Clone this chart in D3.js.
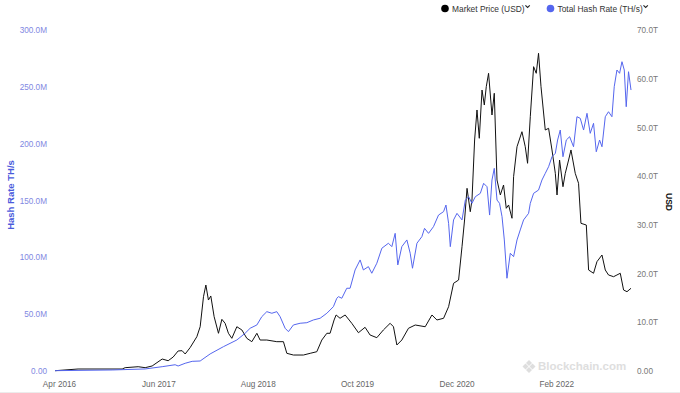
<!doctype html>
<html>
<head>
<meta charset="utf-8">
<script src="https://d3js.org/d3.v7.min.js"></script>
<style>
    body { margin: 0; background: #fff; }
    text { font-family: "Liberation Sans", Arial, sans-serif; }
</style>
</head>
<body>
<svg width="680" height="393"></svg>
<script>

// market price, thousands of USD (right axis), dates as decimal years
var priceYears = [2016.202, 2016.472, 2016.989, 2017.024, 2017.177, 2017.259, 2017.341, 2017.459, 2017.529, 2017.588,
    2017.646, 2017.693, 2017.729, 2017.787, 2017.866, 2017.905, 2017.944, 2017.972, 2018.002, 2018.030,
    2018.069, 2018.120, 2018.160, 2018.198, 2018.237, 2018.277, 2018.336, 2018.395, 2018.453, 2018.512,
    2018.571, 2018.609, 2018.688, 2018.805, 2018.883, 2018.923, 2019.000, 2019.118, 2019.197, 2019.275,
    2019.334, 2019.393, 2019.431, 2019.478, 2019.502, 2019.548, 2019.608, 2019.686, 2019.764, 2019.842,
    2019.901, 2019.980, 2020.057, 2020.136, 2020.175, 2020.215, 2020.273, 2020.351, 2020.430, 2020.547,
    2020.626, 2020.684, 2020.762, 2020.821, 2020.879, 2020.938, 2020.978, 2021.008, 2021.037, 2021.075,
    2021.095, 2021.126, 2021.154, 2021.181, 2021.213, 2021.240, 2021.263, 2021.290, 2021.330, 2021.357,
    2021.389, 2021.428, 2021.466, 2021.498, 2021.525, 2021.565, 2021.584, 2021.624, 2021.682, 2021.721,
    2021.748, 2021.780, 2021.819, 2021.850, 2021.877, 2021.906, 2021.956, 2021.995, 2022.035, 2022.074,
    2022.094, 2022.124, 2022.164, 2022.191, 2022.230, 2022.258, 2022.308, 2022.347, 2022.375, 2022.438,
    2022.465, 2022.523, 2022.563, 2022.622, 2022.661, 2022.699, 2022.758, 2022.798, 2022.837, 2022.876,
    2022.916, 2022.963];
var priceValues = [0.06, 0.41, 0.41, 0.68, 0.88, 0.68, 1.03, 2.46, 2.11, 2.87,
    4.11, 4.17, 3.49, 4.8, 7.04, 9.09, 15.25, 17.65, 14.57, 15.4,
    11.15, 7.74, 10.61, 9.79, 7.74, 6.71, 9.09, 8.42, 6.71, 6.02,
    7.74, 6.36, 6.36, 6.02, 6.02, 3.63, 3.28, 3.28, 3.63, 3.96,
    6.36, 7.74, 7.74, 10.47, 11.5, 10.82, 11.5, 9.79, 7.86, 8.97,
    7.39, 6.84, 8.42, 9.79, 9.09, 5.34, 6.36, 8.77, 9.44, 9.09,
    11.5, 10.47, 10.82, 13.2, 18.0, 18.68, 25.52, 31.0, 37.5, 32.7,
    35.1, 47.42, 53.58, 47.77, 57.68, 54.6, 58.36, 61.11, 52.55, 57.01,
    39.21, 36.13, 38.18, 33.4, 34.08, 31.35, 39.89, 46.04, 49.12, 46.04,
    42.64, 52.2, 62.47, 61.11, 65.22, 58.36, 49.47, 49.82, 45.37, 40.58,
    36.13, 43.31, 37.83, 40.58, 43.31, 45.37, 40.58, 38.53, 30.32, 29.97,
    20.73, 20.06, 22.44, 23.81, 20.73, 19.71, 19.36, 19.71, 20.06, 16.63,
    16.28, 16.98];

// total hash rate, millions of TH/s (left axis)
var hashYears = [2016.202, 2016.871, 2017.259, 2017.459, 2017.611, 2017.646, 2017.729, 2017.811, 2017.905, 2018.022,
    2018.178, 2018.336, 2018.433, 2018.492, 2018.571, 2018.629, 2018.688, 2018.747, 2018.805, 2018.844,
    2018.903, 2018.942, 2019.000, 2019.079, 2019.158, 2019.235, 2019.314, 2019.393, 2019.470, 2019.510,
    2019.529, 2019.569, 2019.627, 2019.666, 2019.725, 2019.784, 2019.822, 2019.881, 2019.921, 2019.980,
    2020.039, 2020.116, 2020.156, 2020.195, 2020.226, 2020.273, 2020.332, 2020.371, 2020.398, 2020.450,
    2020.508, 2020.539, 2020.586, 2020.644, 2020.703, 2020.762, 2020.790, 2020.821, 2020.841, 2020.879,
    2020.919, 2020.978, 2021.017, 2021.056, 2021.095, 2021.134, 2021.193, 2021.232, 2021.272, 2021.302,
    2021.330, 2021.357, 2021.389, 2021.419, 2021.448, 2021.475, 2021.506, 2021.545, 2021.584, 2021.624,
    2021.662, 2021.701, 2021.760, 2021.780, 2021.819, 2021.877, 2021.917, 2021.956, 2021.995, 2022.035,
    2022.074, 2022.101, 2022.132, 2022.164, 2022.203, 2022.242, 2022.288, 2022.328, 2022.367, 2022.406,
    2022.446, 2022.484, 2022.523, 2022.555, 2022.594, 2022.622, 2022.661, 2022.699, 2022.739, 2022.766,
    2022.798, 2022.829, 2022.857, 2022.884, 2022.907, 2022.934, 2022.963];
var hashValues = [0.3, 0.9, 1.8, 3.8, 5.5, 4.4, 6.8, 8.5, 8.8, 15.0,
    21.4, 27.3, 33.2, 37.6, 40.5, 47.8, 52.2, 50.8, 52.2, 47.8,
    37.6, 34.6, 40.5, 42.0, 42.5, 44.9, 46.4, 50.8, 56.6, 64.0,
    65.4, 64.0, 72.8, 72.8, 88.9, 97.7, 88.9, 91.8, 86.0, 94.8,
    108.0, 112.4, 109.4, 121.1, 93.3, 109.4, 115.3, 103.6, 90.4, 112.4,
    118.2, 125.5, 121.1, 127.0, 137.2, 140.2, 146.0, 129.9, 109.4, 132.9,
    138.7, 132.9, 150.4, 153.3, 147.5, 153.3, 156.3, 165.1, 162.1, 137.2,
    168.0, 178.3, 150.4, 147.5, 135.8, 115.3, 81.6, 103.6, 100.6, 115.3,
    124.1, 132.9, 138.7, 147.5, 156.3, 159.2, 168.0, 173.9, 179.7, 188.5,
    191.5, 203.2, 212.0, 188.5, 203.2, 206.1, 197.3, 223.7, 222.3, 212.0,
    226.7, 209.1, 217.9, 192.9, 203.2, 197.3, 223.7, 228.1, 223.7, 250.1,
    264.8, 261.9, 272.1, 264.8, 232.5, 263.3, 247.2];

var xTicks = ["2016-04-01", "2017-06-01", "2018-08-01", "2019-10-01", "2020-12-01", "2022-02-01"];
var hashTicks = [0, 50, 100, 150, 200, 250, 300];
var priceTicks = [0, 10, 20, 30, 40, 50, 60, 70];

var blue = "#5566ee";

function yearToDate(t) {
    var y = Math.floor(t);
    var a = Date.UTC(y, 0, 1), b = Date.UTC(y + 1, 0, 1);
    return new Date(a + (t - y) * (b - a));
}

var price = priceYears.map(function(t, i) { return { date: yearToDate(t), value: priceValues[i] }; });
var hash = hashYears.map(function(t, i) { return { date: yearToDate(t), value: hashValues[i] }; });

var svg = d3.select("svg"),
    plotLeft = 55, plotRight = 631, plotTop = 30, plotBottom = 371;

var x = d3.scaleUtc()
    .domain(d3.extent(price, function(d) { return d.date; }))
    .range([plotLeft, plotRight]);
var yHash = d3.scaleLinear().domain([0, 300]).range([plotBottom, plotTop]);
var yPrice = d3.scaleLinear().domain([0, 70]).range([plotBottom, plotTop]);

// faint frame line at the bottom
svg.append("line")
    .attr("x1", 0).attr("x2", 680).attr("y1", 392.5).attr("y2", 392.5)
    .attr("stroke", "#ececec");

// watermark
var wm = svg.append("g").attr("transform", "translate(529,366)").attr("fill", "#dedede");
wm.append("path").attr("d", "M0,-6 L3,-3 L0,0 L-3,-3 Z");
wm.append("path").attr("d", "M-3.5,-2.5 L-0.5,0.5 L-3.5,3.5 L-6.5,0.5 Z");
wm.append("path").attr("d", "M3.5,-2.5 L6.5,0.5 L3.5,3.5 L0.5,0.5 Z");
wm.append("path").attr("d", "M0,1 L3,4 L0,7 L-3,4 Z");
svg.append("text")
    .attr("x", 538).attr("y", 370)
    .attr("font-size", "11.5px").attr("font-weight", "bold")
    .attr("fill", "#dedede")
    .text("Blockchain.com");

// axes
var xAxis = svg.append("g")
    .attr("transform", "translate(0," + plotBottom + ")")
    .call(d3.axisBottom(x)
        .tickValues(xTicks.map(function(s) { return d3.utcParse("%Y-%m-%d")(s); }))
        .tickFormat(d3.utcFormat("%b %Y"))
        .tickSize(0).tickPadding(10));

var fmt = d3.format(".1f");
var leftAxis = svg.append("g")
    .attr("transform", "translate(49,0)")
    .call(d3.axisLeft(yHash).tickValues(hashTicks).tickSize(0).tickPadding(2)
        .tickFormat(function(d) { return d === 0 ? "0.00" : fmt(d) + "M"; }));

var rightAxis = svg.append("g")
    .attr("transform", "translate(635,0)")
    .call(d3.axisRight(yPrice).tickValues(priceTicks).tickSize(0).tickPadding(2)
        .tickFormat(function(d) { return d === 0 ? "0.00" : fmt(d) + "T"; }));

[xAxis, leftAxis, rightAxis].forEach(function(g) {
    g.select(".domain").remove();
    g.selectAll("text").attr("font-family", "Liberation Sans, Arial, sans-serif").attr("font-size", "8.2px");
});
xAxis.selectAll("text").attr("fill", "#666");
leftAxis.selectAll("text").attr("fill", "#7f87e2");
rightAxis.selectAll("text").attr("fill", "#777");

svg.append("text")
    .attr("transform", "translate(14,195) rotate(-90)")
    .attr("text-anchor", "middle")
    .attr("font-size", "9.5px").attr("font-weight", "bold")
    .attr("fill", "#4a5bdc")
    .text("Hash Rate TH/s");

svg.append("text")
    .attr("transform", "translate(666,202) rotate(90)")
    .attr("text-anchor", "middle")
    .attr("font-size", "8.6px").attr("font-weight", "bold")
    .attr("fill", "#111")
    .text("USD");

// lines
var line = function(y) {
    return d3.line()
        .x(function(d) { return x(d.date); })
        .y(function(d) { return y(d.value); });
};

svg.append("path")
    .datum(price)
    .attr("fill", "none")
    .attr("stroke", "#111")
    .attr("stroke-width", 1)
    .attr("stroke-linejoin", "round")
    .attr("d", line(yPrice));

svg.append("path")
    .datum(hash)
    .attr("fill", "none")
    .attr("stroke", blue)
    .attr("stroke-width", 1)
    .attr("stroke-linejoin", "round")
    .attr("d", line(yHash));

// legend
var legendItems = [
    { label: "Market Price (USD)", color: "#000", x: 445 },
    { label: "Total Hash Rate (TH/s)", color: blue, x: 550.5 }
];
legendItems.forEach(function(item) {
    var g = svg.append("g").attr("transform", "translate(" + item.x + ",8.5)");
    g.append("circle").attr("r", 3.8).attr("fill", item.color);
    var t = g.append("text")
        .attr("x", 7).attr("y", 3)
        .attr("font-size", "8.4px")
        .attr("fill", "#333")
        .text(item.label);
    var w = t.node().getComputedTextLength();
    g.append("path")
        .attr("d", "M" + (w + 7.8) + ",-3.2 L" + (w + 10) + ",-1 L" + (w + 12.2) + ",-3.2")
        .attr("fill", "none")
        .attr("stroke", "#222")
        .attr("stroke-width", 1.1);
});

</script>
</body>
</html>
